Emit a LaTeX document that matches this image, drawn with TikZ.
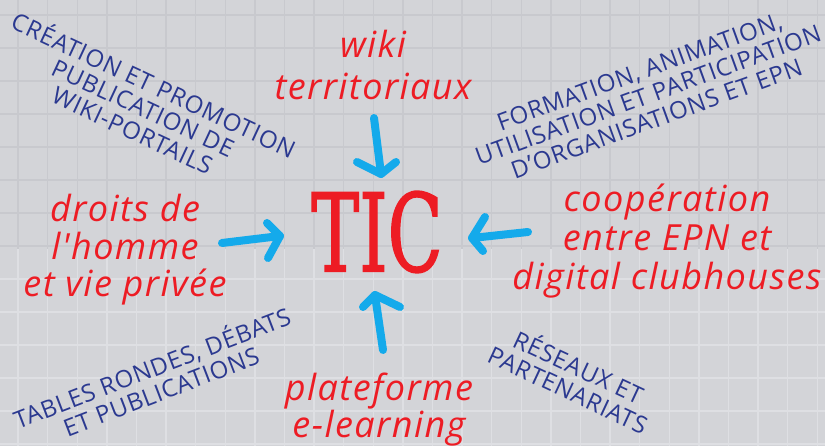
\documentclass[tikz,border=0pt]{standalone}
\usepackage{fontspec}
\setmainfont{Open Sans}
\newfontfamily\ticfont[FakeBold=1.6]{DejaVu Serif Condensed}
\newfontfamily\redfont[LetterSpace=4]{Open Sans}
\newfontfamily\bluefont[LetterSpace=3]{Open Sans}
\usetikzlibrary{calc}
\definecolor{bg}{RGB}{211,212,216}
\definecolor{gridA}{RGB}{200,201,206}
\definecolor{gridB}{RGB}{222,223,227}
\definecolor{ticred}{RGB}{237,28,36}
\definecolor{navy}{RGB}{43,57,144}
\definecolor{chalk}{RGB}{20,170,235}
\tikzset{
  redlabel/.style={text=ticred, align=center, inner sep=0pt, font=\redfont\itshape\fontsize{36}{#1}\selectfont},
  redlabel/.default=40,
  bluelabel/.style={text=navy, align=center, inner sep=0pt, font=\bluefont\fontsize{24}{25}\selectfont},
  chalkline/.style={draw=chalk, line width=8pt, line cap=round, line join=round},
  gridline/.style={line width=1.4pt},
}
\begin{document}
\begin{tikzpicture}[x=1pt,y=-1pt]
\useasboundingbox (0,0) rectangle (825,446);
\fill[bg] (0,0) rectangle (825,446);
\begin{scope}
  \clip (0,0) rectangle (825,250);
  \foreach \i in {0,...,27} \draw[gridline,gridA] ({18+29.6*\i},0) -- ({18+29.6*\i},446);
  \foreach \j in {0,...,13} \draw[gridline,gridA] (0,{15+33*\j}) -- (825,{15+33*\j});
\end{scope}
\begin{scope}
  \clip (0,250) rectangle (825,446);
  \foreach \i in {0,...,27} \draw[gridline,gridB] ({18+29.6*\i},0) -- ({18+29.6*\i},446);
  \foreach \j in {0,...,13} \draw[gridline,gridB] (0,{15+33*\j}) -- (825,{15+33*\j});
\end{scope}

% central node
\node[text=ticred, font=\ticfont\fontsize{108}{108}\selectfont, xscale=0.74, inner sep=0pt] (tic) at (377,232) {TIC};

% red labels
\node[redlabel=42] (wiki) at (373,65) {wiki\\territoriaux};
\node[redlabel=37.5] (droits) at (125,250) {droits de\\l'homme\\et vie privée};
\node[redlabel=39] (coop) at (667,241) {coopération\\entre EPN et\\digital clubhouses};
\node[redlabel=35] (plat) at (379,410) {plateforme\\e-learning};

% blue labels
\node[bluelabel, rotate=-25] (creation) at (144,106) {CRÉATION ET PROMOTION\\PUBLICATION DE\\WIKI-PORTAILS};
\node[bluelabel, rotate=20] (formation) at (648,95) {FORMATION, ANIMATION,\\UTILISATION ET PARTICIPATION\\D’ORGANISATIONS ET EPN};
\node[bluelabel, rotate=21] (tables) at (156,378) {TABLES RONDES, DÉBATS\\ET PUBLICATIONS};
\node[bluelabel, rotate=-25] (reseaux) at (574,377) {RÉSEAUX ET\\PARTENARIATS};

% arrows
\coordinate (topTail) at (374,118);
\coordinate (topTip) at (381,174);
\draw[chalkline] (topTail) -- (topTip);
\draw[chalkline] ($(topTip)+(-24,-12)$) -- (topTip) -- ($(topTip)+(15,-12)$);

\coordinate (leftTail) at (222,243);
\coordinate (leftTip) at (280,236);
\draw[chalkline] (leftTail) -- (leftTip);
\draw[chalkline] ($(leftTip)+(-13,-13)$) -- (leftTip) -- ($(leftTip)+(-12,22)$);

\coordinate (rightTail) at (528,232);
\coordinate (rightTip) at (472,238);
\draw[chalkline] (rightTail) -- (rightTip);
\draw[chalkline] ($(rightTip)+(13,-21)$) -- (rightTip) -- ($(rightTip)+(11,13)$);

\coordinate (botTail) at (383,350);
\coordinate (botTip) at (375,295);
\draw[chalkline] (botTail) -- (botTip);
\draw[chalkline] ($(botTip)+(-12,12)$) -- (botTip) -- ($(botTip)+(25,12)$);
\end{tikzpicture}
\end{document}
